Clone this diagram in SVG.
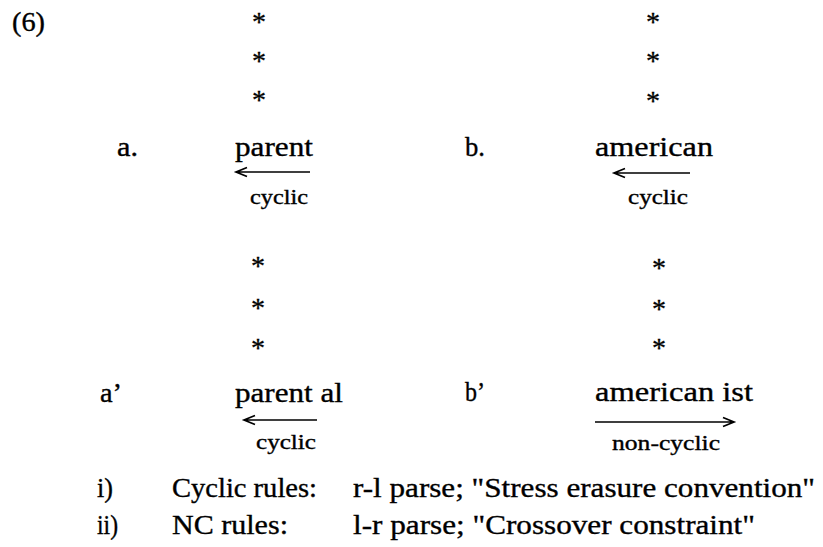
<svg xmlns="http://www.w3.org/2000/svg" width="823" height="547" viewBox="0 0 823 547">
<style>
text{font-family:"Liberation Serif","Times New Roman",Times,serif;fill:#000;stroke:#000;stroke-width:0.35}
.m{font-size:27px}
.s{font-size:20px}
.st{font-size:28px;text-anchor:middle}
.arr{fill:none;stroke:#000;stroke-width:1.7}
</style>
<rect width="823" height="547" fill="#fff"/>
<g id="label-6"><text class="m" x="12" y="31" textLength="33" lengthAdjust="spacingAndGlyphs">(6)</text></g>
<g id="stars-a">
<text class="st" x="259" y="31">*</text>
<text class="st" x="259" y="70">*</text>
<text class="st" x="259" y="109">*</text>
</g>
<g id="stars-b">
<text class="st" x="653" y="31">*</text>
<text class="st" x="653" y="70">*</text>
<text class="st" x="653" y="110">*</text>
</g>
<g id="node-a">
<text class="m" x="117" y="156" textLength="21" lengthAdjust="spacingAndGlyphs">a.</text>
<text class="m" x="235" y="156" textLength="78" lengthAdjust="spacingAndGlyphs">parent</text>
<text class="s" x="250" y="204" textLength="58" lengthAdjust="spacingAndGlyphs">cyclic</text>
</g>
<g id="node-b">
<text class="m" x="465" y="156" textLength="20" lengthAdjust="spacingAndGlyphs">b.</text>
<text class="m" x="595" y="156" textLength="118" lengthAdjust="spacingAndGlyphs">american</text>
<text class="s" x="628" y="204" textLength="60" lengthAdjust="spacingAndGlyphs">cyclic</text>
</g>
<g id="stars-a2">
<text class="st" x="258" y="275">*</text>
<text class="st" x="258" y="317">*</text>
<text class="st" x="258" y="357">*</text>
</g>
<g id="stars-b2">
<text class="st" x="659" y="277">*</text>
<text class="st" x="659" y="318">*</text>
<text class="st" x="659" y="357">*</text>
</g>
<g id="node-a2">
<text class="m" x="100" y="402" textLength="22" lengthAdjust="spacingAndGlyphs">a’</text>
<text class="m" x="235" y="402" textLength="108" lengthAdjust="spacingAndGlyphs">parent al</text>
<text class="s" x="256" y="449" textLength="60" lengthAdjust="spacingAndGlyphs">cyclic</text>
</g>
<g id="node-b2">
<text class="m" x="465" y="401" textLength="20" lengthAdjust="spacingAndGlyphs">b’</text>
<text class="m" x="595" y="401" textLength="158" lengthAdjust="spacingAndGlyphs">american ist</text>
<text class="s" x="612" y="450" textLength="108" lengthAdjust="spacingAndGlyphs">non-cyclic</text>
</g>
<g id="connectors">
<path class="arr" d="M247,167.5 L236,172 L247,176.5 M237,172 H310"/>
<path class="arr" d="M625,168.5 L614,173 L625,177.5 M615,173 H690"/>
<path class="arr" d="M255,415.5 L244,420 L255,424.5 M245,420 H317"/>
<path class="arr" d="M723,417.5 L734,422 L723,426.5 M595,422 H733"/>
</g>
<g id="rules">
<text class="m" x="97" y="497" textLength="16" lengthAdjust="spacingAndGlyphs">i)</text>
<text class="m" x="172" y="497" textLength="145" lengthAdjust="spacingAndGlyphs">Cyclic rules:</text>
<text class="m" x="353" y="497" textLength="462" lengthAdjust="spacingAndGlyphs">r-l parse; "Stress erasure convention"</text>
<text class="m" x="97" y="534" textLength="21" lengthAdjust="spacingAndGlyphs">ii)</text>
<text class="m" x="172" y="534" textLength="116" lengthAdjust="spacingAndGlyphs">NC rules:</text>
<text class="m" x="353" y="534" textLength="402" lengthAdjust="spacingAndGlyphs">l-r parse; "Crossover constraint"</text>
</g>
</svg>
